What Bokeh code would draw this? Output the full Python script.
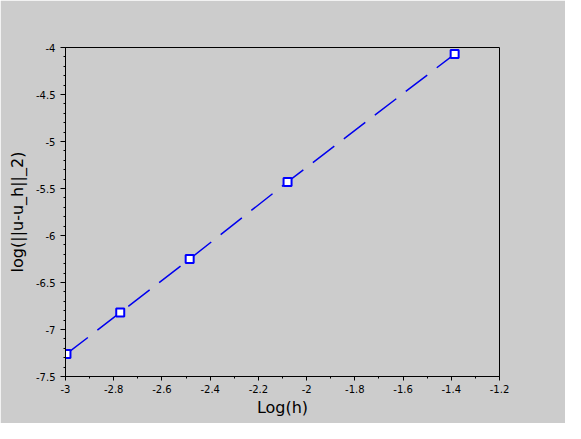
import numpy as np
from bokeh.plotting import figure
from bokeh.models import FixedTicker, Range1d
from bokeh.embed import file_html
from bokeh.resources import INLINE

# data: log(h) and log of L2 error
log_h = [-2.996, -2.773, -2.485, -2.079, -1.386]
log_err = [-7.26, -6.82, -6.25, -5.43, -4.07]

x_ticks = [-3, -2.8, -2.6, -2.4, -2.2, -2, -1.8, -1.6, -1.4, -1.2]
x_tick_labels = ["-3", "-2.8", "-2.6", "-2.4", "-2.2", "-2", "-1.8", "-1.6", "-1.4", "-1.2"]
y_ticks = [-7.5, -7, -6.5, -6, -5.5, -5, -4.5, -4]
y_tick_labels = ["-7.5", "-7", "-6.5", "-6", "-5.5", "-5", "-4.5", "-4"]

x_label = "Log(h)"
y_label = "log(||u-u_h||_2)"

BG = "#cccccc"
FONT = "DejaVu Sans"

p = figure(width=565, height=423, output_backend="svg", toolbar_location=None,
           x_range=Range1d(-3, -1.2), y_range=Range1d(-7.5, -4),
           min_border_left=65, min_border_right=66, min_border_top=47, min_border_bottom=47)
p.background_fill_color = BG
p.border_fill_color = BG
p.outline_line_color = "black"
p.outline_line_width = 1
p.xgrid.visible = False
p.ygrid.visible = False

x_minor = [round(v, 2) for v in np.arange(-3, -1.19, 0.1)]
y_minor = [round(v, 2) for v in np.arange(-7.5, -3.99, 0.1)]
p.xaxis.ticker = FixedTicker(ticks=x_ticks, minor_ticks=x_minor)
p.yaxis.ticker = FixedTicker(ticks=y_ticks, minor_ticks=y_minor)
p.xaxis.major_label_overrides = {t: l for t, l in zip(x_ticks, x_tick_labels)}
p.yaxis.major_label_overrides = {t: l for t, l in zip(y_ticks, y_tick_labels)}

for ax in (p.xaxis[0], p.yaxis[0]):
    ax.axis_line_color = "black"
    ax.major_tick_line_color = "black"
    ax.minor_tick_line_color = "black"
    ax.major_tick_in = 0
    ax.minor_tick_in = 0
    ax.minor_tick_out = 2
    ax.major_label_text_font = FONT
    ax.major_label_text_font_size = "10px"
    ax.major_label_text_color = "black"
    ax.axis_label_text_font = FONT
    ax.axis_label_text_font_size = "16px"
    ax.axis_label_text_font_style = "normal"
    ax.axis_label_text_color = "black"

p.xaxis.major_tick_out = 4
p.yaxis.major_tick_out = 5
p.xaxis.major_label_standoff = 4
p.yaxis.major_label_standoff = 5
p.xaxis.axis_label_standoff = 2
p.yaxis.axis_label_standoff = 6
p.xaxis.axis_label = x_label
p.yaxis.axis_label = y_label

p.line(log_h, log_err, line_color="#0000ee", line_width=1.5, line_dash="27 12")
p.scatter(log_h, log_err, marker="square", size=8, line_color="#0000ff",
          line_width=2, fill_color="white")

open("out.html", "w").write(file_html(p, INLINE))
